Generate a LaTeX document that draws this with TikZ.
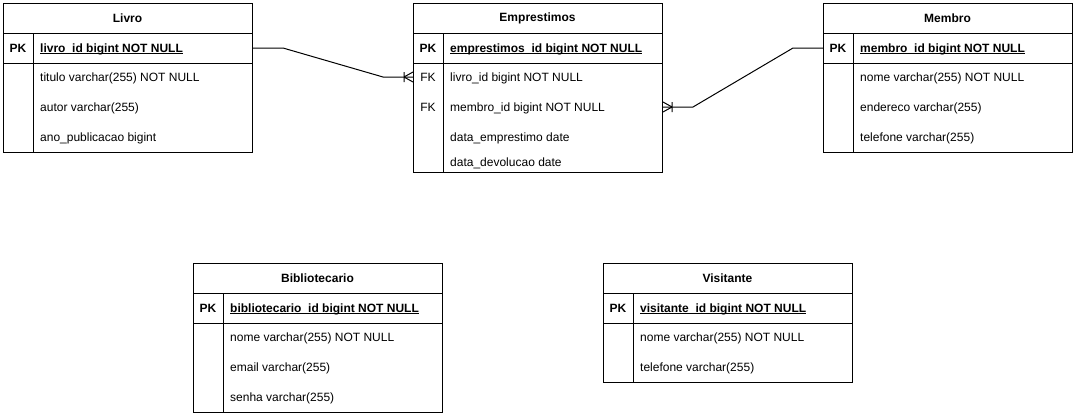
\documentclass[tikz,border=0pt]{standalone}
\usepackage{fontspec}
\setmainfont{Liberation Sans}
\usetikzlibrary{calc}

\newcommand{\pkname}[1]{\setbox0\hbox{\textbf{#1}}\rlap{\rule[-1.6pt]{\wd0}{0.9pt}}\box0}

\tikzset{
  tbl/.style={draw, line width=1pt, anchor=north west, inner sep=0pt, minimum width=249pt},
  ttl/.style={font=\bfseries\fontsize{12}{14}\selectfont, inner sep=0pt},
  key/.style={font=\fontsize{12}{14}\selectfont, inner sep=0pt},
  fld/.style={font=\fontsize{12}{14}\selectfont, anchor=base west, inner sep=0pt},
  rel/.style={line width=1pt},
  crowfoot/.pic={\draw[line width=1pt] (0,-5) -- (0,5) (0,0) -- (9,5) (0,0) -- (9,-5);}
}

\begin{document}
\begin{tikzpicture}[x=1pt, y=-1pt]
\useasboundingbox (0,0) rectangle (1075,415);
%livro
\node[tbl, minimum height=149pt] (livro) at (3,3) {};
\draw[line width=1pt] (3,33) -- (252,33);
\draw[line width=1pt] (3,63) -- (252,63);
\draw[line width=1pt] (33,33) -- (33,152);
\node[ttl] (livroT) at (127.5,18) {Livro};
\node[key, font=\bfseries\fontsize{12}{14}\selectfont] (livroPK) at (18,48) {PK};
\node[fld] (livroId) at (40,52.5) {\pkname{livro\_id bigint NOT NULL}};
\node[fld] (livroF1) at (40,81.5) {titulo varchar(255) NOT NULL};
\node[fld] (livroF2) at (40,111.5) {autor varchar(255)};
\node[fld] (livroF3) at (40,141.5) {ano\_publicacao bigint};
%emprestimos
\node[tbl, minimum height=169pt] (emprestimos) at (413,3) {};
\draw[line width=1pt] (413,33) -- (662,33);
\draw[line width=1pt] (413,63) -- (662,63);
\draw[line width=1pt] (443,33) -- (443,172);
\node[ttl] (empT) at (537.5,18) {Emprestimos};
\node[key, font=\bfseries\fontsize{12}{14}\selectfont] (empPK) at (428,48) {PK};
\node[fld] (empId) at (450,52.5) {\pkname{emprestimos\_id bigint NOT NULL}};
\node[key] (empFK1) at (428,77) {FK};
\node[key] (empFK2) at (428,107) {FK};
\node[fld] (empF1) at (450,81.5) {livro\_id bigint NOT NULL};
\node[fld] (empF2) at (450,111.5) {membro\_id bigint NOT NULL};
\node[fld] (empF3) at (450,141.5) {data\_emprestimo date};
\node[fld] (empF4) at (450,166.5) {data\_devolucao date};
%membro
\node[tbl, minimum height=149pt] (membro) at (823,3) {};
\draw[line width=1pt] (823,33) -- (1072,33);
\draw[line width=1pt] (823,63) -- (1072,63);
\draw[line width=1pt] (853,33) -- (853,152);
\node[ttl] (membroT) at (947.5,18) {Membro};
\node[key, font=\bfseries\fontsize{12}{14}\selectfont] (membroPK) at (838,48) {PK};
\node[fld] (membroId) at (860,52.5) {\pkname{membro\_id bigint NOT NULL}};
\node[fld] (membroF1) at (860,81.5) {nome varchar(255) NOT NULL};
\node[fld] (membroF2) at (860,111.5) {endereco varchar(255)};
\node[fld] (membroF3) at (860,141.5) {telefone varchar(255)};
%bibliotecario
\node[tbl, minimum height=149pt] (bibliotecario) at (193,263) {};
\draw[line width=1pt] (193,293) -- (442,293);
\draw[line width=1pt] (193,323) -- (442,323);
\draw[line width=1pt] (223,293) -- (223,412);
\node[ttl] (bibT) at (317.5,278) {Bibliotecario};
\node[key, font=\bfseries\fontsize{12}{14}\selectfont] (bibPK) at (208,308) {PK};
\node[fld] (bibId) at (230,312.5) {\pkname{bibliotecario\_id bigint NOT NULL}};
\node[fld] (bibF1) at (230,341.5) {nome varchar(255) NOT NULL};
\node[fld] (bibF2) at (230,371.5) {email varchar(255)};
\node[fld] (bibF3) at (230,401.5) {senha varchar(255)};
%visitante
\node[tbl, minimum height=119pt] (visitante) at (603,263) {};
\draw[line width=1pt] (603,293) -- (852,293);
\draw[line width=1pt] (603,323) -- (852,323);
\draw[line width=1pt] (633,293) -- (633,382);
\node[ttl] (visT) at (727.5,278) {Visitante};
\node[key, font=\bfseries\fontsize{12}{14}\selectfont] (visPK) at (618,308) {PK};
\node[fld] (visId) at (640,312.5) {\pkname{visitante\_id bigint NOT NULL}};
\node[fld] (visF1) at (640,341.5) {nome varchar(255) NOT NULL};
\node[fld] (visF2) at (640,371.5) {telefone varchar(255)};
%relations
\draw[rel] (livroPK -| livro.east) -- ++(30,0) -- ($(empFK1 -| emprestimos.west)+(-30,0)$) -- (empFK1 -| emprestimos.west);
\pic at ($(empFK1 -| emprestimos.west)+(-9,0)$) {crowfoot};
\draw[rel] (membroPK -| membro.west) -- ++(-30,0) -- ($(empFK2 -| emprestimos.east)+(30,0)$) -- (empFK2 -| emprestimos.east);
\pic[rotate=180] at ($(empFK2 -| emprestimos.east)+(9,0)$) {crowfoot};
\end{tikzpicture}
\end{document}
